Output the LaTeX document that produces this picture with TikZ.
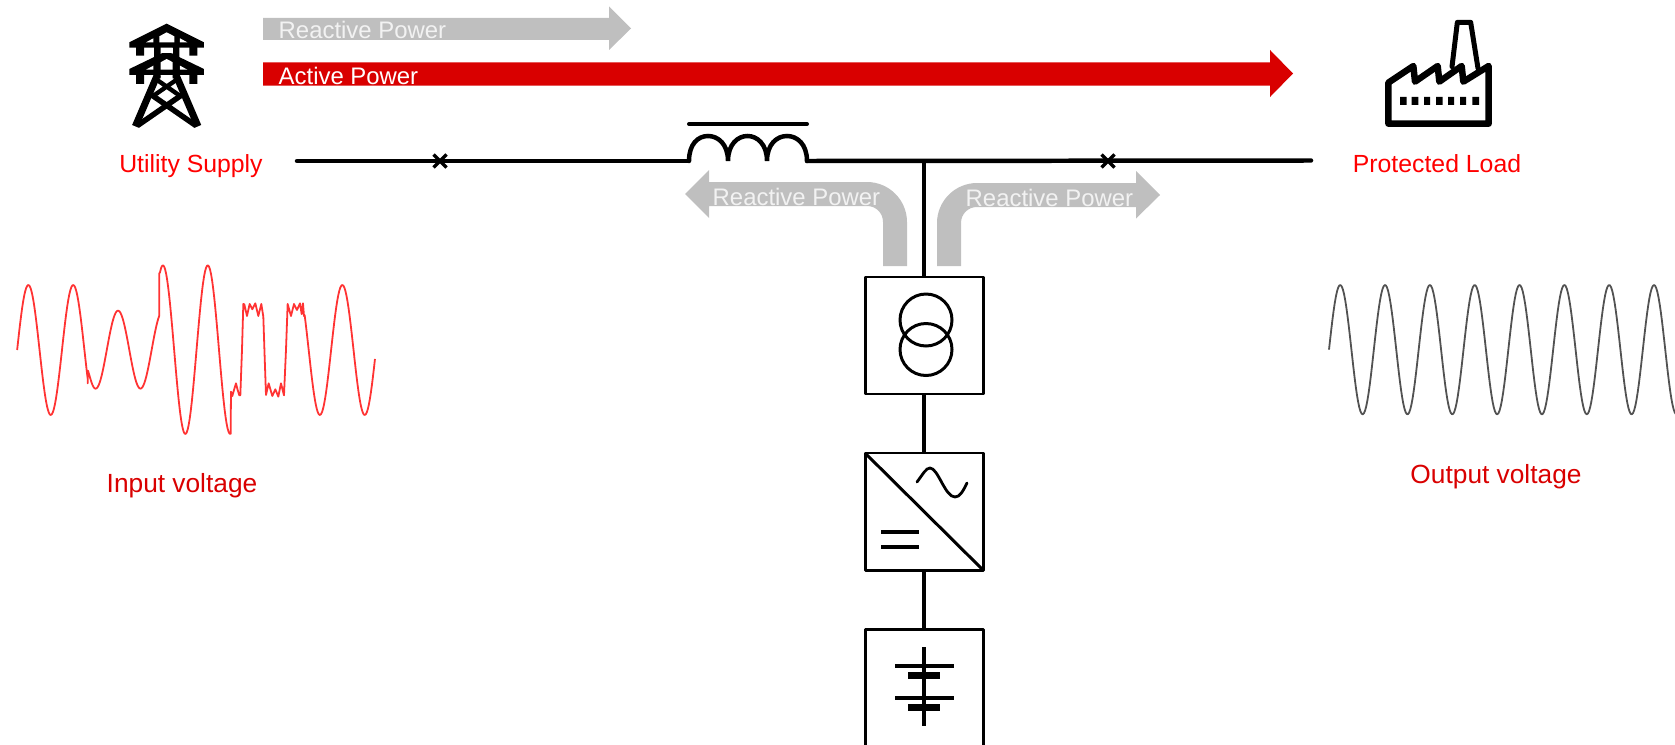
\documentclass[tikz,border=0pt]{standalone}
\usepackage{fontspec}
\setmainfont{Liberation Sans}
\definecolor{rgray}{HTML}{BFBFBF}
\definecolor{dred}{HTML}{D90000}
\definecolor{ltext}{HTML}{F2F2F2}
\tikzset{
  wire/.style={line width=4.5pt,line cap=round},
  boxed/.style={draw,line width=3pt,minimum width=118bp,minimum height=117bp,inner sep=0,outer sep=0,line join=round},
  flowlabel/.style={anchor=base west,inner sep=0,font=\fontsize{24}{28}\selectfont},
  redlabel/.style={anchor=base,inner sep=0,font=\fontsize{24.9}{30}\selectfont},
  redlabelb/.style={anchor=base,inner sep=0,font=\fontsize{26.4}{30}\selectfont},
  iconline/.style={line width=6.5pt,line join=round,line cap=round},
  sinewave/.style={line width=1.8pt,line join=round},
}
\begin{document}
\begin{tikzpicture}[x=1bp,y=-1bp]
\useasboundingbox (0,0) rectangle (1675,745);
\clip (0,0) rectangle (1675,745);
% straight power arrows
\fill[rgray] (263,18) -- (609,18) -- (609,6.5) -- (631,28.5) -- (609,50) -- (609,40) -- (263,40) -- cycle;
\fill[dred] (263,62.5) -- (1270,62.5) -- (1270,50) -- (1293,73.5) -- (1270,97) -- (1270,85.5) -- (263,85.5) -- cycle;
\node[flowlabel,text=ltext] (rp1) at (278.5,39) {Reactive Power};
\node[flowlabel,text=white] (ap) at (278.5,84) {Active Power};
% bent reactive arrows
\fill[rgray] (685,194) -- (709,170) -- (709,182) -- (867,182) .. controls (889,182) and (907,200) .. (907,222) -- (907,266) -- (883,266) -- (883,222) .. controls (883,213) and (876,206) .. (867,206) -- (709,206) -- (709,218) -- cycle;
\fill[rgray] (1160,195) -- (1136,171) -- (1136,183) -- (977,183) .. controls (955,183) and (937,201) .. (937,223) -- (937,266) -- (961,266) -- (961,223) .. controls (961,214) and (968,207) .. (977,207) -- (1136,207) -- (1136,218.5) -- cycle;
\node[flowlabel,text=ltext] (rp2) at (712.5,205) {Reactive Power};
\node[flowlabel,text=ltext] (rp3) at (965.5,206) {Reactive Power};
% bus
\coordinate (busL) at (297,161);
\coordinate (indL) at (688,161);
\coordinate (indR) at (807,161);
\coordinate (tee) at (924,160.5);
\coordinate (busR) at (1311,160.5);
\coordinate (xa) at (440,161);
\coordinate (xb) at (1108,161);
\draw[wire] (busL) -- (indL);
\draw[wire] (indR) -- (busR);
\draw[wire,line cap=butt] (tee) -- (924,277);
\draw[wire] (689,161) .. controls (689,144) and (698,136) .. (708,136) .. controls (718,136) and (728,144) .. (728,161)
  .. controls (728,144) and (738,136) .. (747.5,136) .. controls (757,136) and (767,144) .. (767,161)
  .. controls (767,144) and (777,136) .. (787,136) .. controls (797,136) and (807,144) .. (807,161);
\draw[wire,line width=4pt] (689,124) -- (807,124);
\draw[line width=3.4pt] ([shift={(-6.5,-6.5)}]xa) -- ([shift={(6.5,6.5)}]xa) ([shift={(-6.5,6.5)}]xa) -- ([shift={(6.5,-6.5)}]xa);
\draw[line width=3.4pt] ([shift={(-6.5,-6.5)}]xb) -- ([shift={(6.5,6.5)}]xb) ([shift={(-6.5,6.5)}]xb) -- ([shift={(6.5,-6.5)}]xb);
% boxes
\node[boxed] (xfmr) at (924,335.5) {};
\node[boxed] (conv) at (924,511.5) {};
\node[boxed,minimum height=140bp] (batt) at (924,699) {};
\draw[wire,line cap=butt] (xfmr.south) -- (conv.north);
\draw[wire,line cap=butt] (conv.south) -- (batt.north);
% transformer
\draw[line width=3pt] (926,320) circle (26) (926,349.5) circle (26);
% converter
\draw[line width=3pt] (conv.north west) -- (conv.south east);
\draw[line width=4pt] (881,532) -- (919,532) (881,547) -- (919,547);
\draw[line width=2.8pt,line cap=round] (917,482) .. controls (923,474) and (926,468) .. (930,468) .. controls (938,468) and (945,497) .. (955,497) .. controls (960,497) and (963,491) .. (967,483);
% battery
\draw[line width=4.2pt] (924,647) -- (924,726);
\draw[line width=4pt] (895,666) -- (954,666) (895,698) -- (954,698);
\draw[line width=7pt] (908,675.5) -- (940,675.5) (908,707.5) -- (940,707.5);
% labels
\node[redlabel,text=red] (util) at (191,172) {Utility Supply};
\node[redlabel,text=red] (prot) at (1437,172) {Protected Load};
\node[redlabelb,text=dred] (inp) at (182,492) {Input voltage};
\node[redlabelb,text=dred] (outp) at (1496,483) {Output voltage};
% input waveform
\begin{scope}[shift={(0,240)},x=0.33333bp,y=-0.33333bp]
\draw[sinewave,color=red!80!white]
  plot[domain=51.4:263,samples=70] (\x,{330-195*sin((\x-51.4)/134.57*360)})
  -- (263,430) -- (264,392)
  -- plot[domain=272:478,samples=70] (\x,{329-117*sin((\x-51.4)/134.57*360)})
  -- (478,100)
  -- plot[domain=480:692,samples=70] (\x,{329-253*sin((\x-51.4)/134.57*360)})
  -- (693,455) -- (697,468) -- (702,450) -- (708,430) -- (713,450) -- (718,466) -- (721,466) -- (726,330) -- (730,192) -- (733,193) -- (741,228) -- (749,192) -- (757,208) -- (766,190) -- (775,228) -- (784,192) -- (790,230) -- (794,350) -- (798,465) -- (806,430) -- (817,468) -- (826,448) -- (835,470) -- (843,430) -- (852,466) -- (858,330) -- (863,192) -- (873,228) -- (882,192) -- (891,210) -- (900,190) -- (905,222) -- (909,190) -- (912,228)
  -- plot[domain=914:1125,samples=70] (\x,{330-195*sin((\x-51.4)/134.57*360)});
\end{scope}
% output waveform
\begin{scope}[shift={(1320,270)},x=0.33333bp,y=-0.33333bp]
\draw[sinewave,color=black!68] plot[domain=27:1068,samples=300] (\x,{239-194*sin((\x-27)/134.5*360)});
\end{scope}
% utility tower icon
\begin{scope}[shift={(120,15)},x=0.33333bp,y=-0.33333bp]
\fill (140,26) -- (252,82) -- (252,98) -- (28,98) -- (28,82) -- cycle;
\fill (140,108) -- (252,162) -- (252,180) -- (28,180) -- (28,162) -- cycle;
\fill[white] (140,52) -- (163,64) -- (163,82) -- (118,82) -- (118,64) -- cycle;
\fill[white] (140,132) -- (163,144) -- (163,164) -- (118,164) -- (118,144) -- cycle;
\fill[white] (100,70) -- (100,82) -- (78,82) -- cycle;
\fill[white] (180,70) -- (180,82) -- (202,82) -- cycle;
\fill[white] (100,152) -- (100,164) -- (78,164) -- cycle;
\fill[white] (180,152) -- (180,164) -- (202,164) -- cycle;
\fill (102,90) rectangle (122,190) (158,90) rectangle (178,190);
\fill[white] (122,98) rectangle (158,114);
\fill (48,90) rectangle (72,122) (208,90) rectangle (232,122);
\fill (48,175) rectangle (72,207) (208,175) rectangle (232,207);
\draw[line width=7pt] (112,180) -- (46,334);
\draw[line width=7pt] (168,180) -- (234,334);
\draw[line width=5.5pt] (95,240) -- (228,332) (185,240) -- (52,332);
\draw[line width=4.4pt] (95,246) -- (170,194) (185,246) -- (110,194);
\end{scope}
% factory icon
\begin{scope}[shift={(1380,15)},x=0.33333bp,y=-0.33333bp]
\draw[line width=5pt,line join=round,line cap=round] (216,155) -- (232,22) -- (272,22) -- (294,160);
\fill[white] (230,190) rectangle (290,205);
\draw[iconline,fill=white] (25,326) -- (25,203) -- (100,153) -- (105,200) -- (173,153) -- (178,200) -- (245,153) -- (250,200) -- (326,153) -- (326,326) -- cycle;
\fill (60,246) rectangle (80,270) (95,246) rectangle (115,270) (132,246) rectangle (150,270) (168,246) rectangle (188,270) (204,246) rectangle (222,270) (240,246) rectangle (258,270) (277,246) rectangle (297,270);
\end{scope}
\end{tikzpicture}
\end{document}
